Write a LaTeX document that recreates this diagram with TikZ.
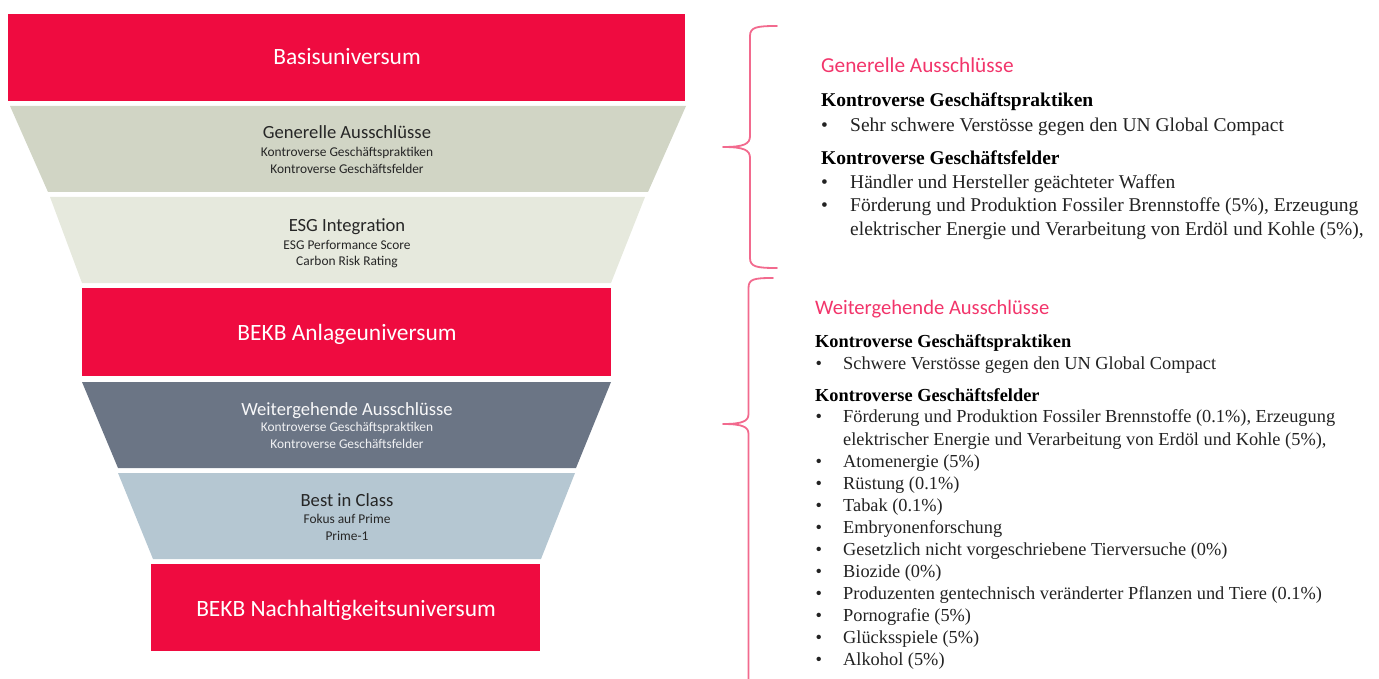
\documentclass[tikz,border=0pt]{standalone}
\usepackage{fontspec}
\setmainfont{Liberation Serif}
\newfontfamily\calibri{Carlito}
\definecolor{bekbred}{HTML}{EF0B40}
\definecolor{grayband}{HTML}{D1D5C5}
\definecolor{paleband}{HTML}{E6E9DD}
\definecolor{slateband}{HTML}{6B7585}
\definecolor{blueband}{HTML}{B5C7D2}
\definecolor{pinkhead}{HTML}{F2356B}
\definecolor{bracepink}{HTML}{F26A8E}
\definecolor{bandtext}{HTML}{262626}
\definecolor{bodytext}{HTML}{222222}
\tikzset{
  redlabel/.style={anchor=base, inner sep=0pt, text=white, font=\calibri\fontsize{23.4}{28}\selectfont},
  bandtitle/.style={anchor=base, inner sep=0pt, font=\calibri\fontsize{18.6}{22}\selectfont},
  bandsub/.style={anchor=base, inner sep=0pt, font=\calibri\fontsize{13.4}{16}\selectfont},
  pinktitle/.style={anchor=base west, inner sep=0pt, text=pinkhead, font=\calibri\fontsize{#1}{24}\selectfont},
  boldhead/.style={anchor=base west, inner sep=0pt, font=\bfseries\fontsize{#1}{22}\selectfont},
  bodyline/.style={anchor=base west, inner sep=0pt, text=bodytext, font=\fontsize{#1}{22}\selectfont},
  brace/.style={draw=bracepink, line width=1.8pt}
}
\begin{document}
\begin{tikzpicture}[x=1pt, y=-1pt, line join=round, line cap=round]
  \useasboundingbox (0,0) rectangle (1379,679);
  % funnel
  \fill[bekbred] (8,14) rectangle (685,101);
  \fill[grayband] (10,106)--(686,106)--(648,192)--(48,192)--cycle;
  \fill[paleband] (50,197)--(645,197)--(611,283)--(82,283)--cycle;
  \fill[bekbred] (82,288) rectangle (611,376);
  \fill[slateband] (82,382)--(611,382)--(576,468)--(118,468)--cycle;
  \fill[blueband] (118,473)--(575,473)--(541,559)--(153,559)--cycle;
  \fill[bekbred] (151,564) rectangle (540,651);
  \node[redlabel] (basis) at (347,65) {Basisuniversum};
  \node[bandtitle, text=bandtext] (genAus) at (347,139) {Generelle Ausschlüsse};
  \node[bandsub, text=bandtext] (genAusA) at (347,156.7) {Kontroverse Geschäftspraktiken};
  \node[bandsub, text=bandtext] (genAusB) at (347,173.3) {Kontroverse Geschäftsfelder};
  \node[bandtitle, text=bandtext] (esg) at (347,231.7) {ESG Integration};
  \node[bandsub, text=bandtext] (esgA) at (347,249.3) {ESG Performance Score};
  \node[bandsub, text=bandtext] (esgB) at (347,265.9) {Carbon Risk Rating};
  \node[redlabel] (anlage) at (347,340.5) {BEKB Anlageuniversum};
  \node[bandtitle, text=white!95!slateband] (weiter) at (347,415) {Weitergehende Ausschlüsse};
  \node[bandsub, text=white!90!slateband] (weiterA) at (347,431.7) {Kontroverse Geschäftspraktiken};
  \node[bandsub, text=white!90!slateband] (weiterB) at (347,448.3) {Kontroverse Geschäftsfelder};
  \node[bandtitle, text=bandtext] (best) at (347,506) {Best in Class};
  \node[bandsub, text=bandtext] (bestA) at (347,523.3) {Fokus auf Prime};
  \node[bandsub, text=bandtext] (bestB) at (347,540) {Prime-1};
  \node[redlabel] (nachhaltig) at (346,616.7) {BEKB Nachhaltigkeitsuniversum};
  % braces
  \draw[brace] (777,26) .. controls (757,26) and (750,27) .. (750,36) -- (750,136)
    .. controls (750,144) and (744,147) .. (723,147) .. controls (744,147) and (750,150) .. (750,158)
    -- (750,258) .. controls (750,267) and (757,268) .. (777,268);
  \draw[brace] (773,278) .. controls (754,278) and (748.5,279) .. (748.5,288) -- (748.5,414)
    .. controls (748.5,421) and (743,424) .. (723,424) .. controls (743,424) and (748.5,427) .. (748.5,434)
    -- (748.5,680);
  % generelle Ausschluesse
  \node[pinktitle=21.3] (gaHead) at (821,72.7) {Generelle Ausschlüsse};
  \node[boldhead=19.5] (gaP) at (821,107) {Kontroverse Geschäftspraktiken};
  \node[bodyline=19.5] at (821,132) {•};
  \node[bodyline=19.5] (gaP1) at (850,132) {Sehr schwere Verstösse gegen den UN Global Compact};
  \node[boldhead=19.5] (gaF) at (821,165) {Kontroverse Geschäftsfelder};
  \node[bodyline=19.5] at (821,188.7) {•};
  \node[bodyline=19.5] (gaF1) at (850,188.7) {Händler und Hersteller geächteter Waffen};
  \node[bodyline=19.5] at (821,211.7) {•};
  \node[bodyline=19.5] (gaF2) at (850,211.7) {Förderung und Produktion Fossiler Brennstoffe (5\%), Erzeugung};
  \node[bodyline=19.5] (gaF2b) at (850,235.3) {elektrischer Energie und Verarbeitung von Erdöl und Kohle (5\%),};
  % weitergehende Ausschluesse
  \node[pinktitle=20.6] (waHead) at (815,314.8) {Weitergehende Ausschlüsse};
  \node[boldhead=18.35] (waP) at (815,347) {Kontroverse Geschäftspraktiken};
  \node[bodyline=18.35] at (815.5,369.3) {•};
  \node[bodyline=18.35] (waP1) at (843,369.3) {Schwere Verstösse gegen den UN Global Compact};
  \node[boldhead=18.35] (waF) at (815,401) {Kontroverse Geschäftsfelder};
  \node[bodyline=18.35] at (815.5,422.7) {•};
  \node[bodyline=18.35] (waF0) at (843,422.7) {Förderung und Produktion Fossiler Brennstoffe (0.1\%), Erzeugung};
  \node[bodyline=18.35] (waF0b) at (843,445) {elektrischer Energie und Verarbeitung von Erdöl und Kohle (5\%),};
  \foreach \entry [count=\i] in {{Atomenergie (5\%)}, {Rüstung (0.1\%)}, {Tabak (0.1\%)},
      {Embryonenforschung}, {Gesetzlich nicht vorgeschriebene Tierversuche (0\%)}, {Biozide (0\%)},
      {Produzenten gentechnisch veränderter Pflanzen und Tiere (0.1\%)}, {Pornografie (5\%)},
      {Glücksspiele (5\%)}, {Alkohol (5\%)}}{
    \node[bodyline=18.35] at (815.5,{467.7+(\i-1)*21.95}) {•};
    \node[bodyline=18.35] (waF\i) at (843,{467.7+(\i-1)*21.95}) {\entry};
  }
\end{tikzpicture}
\end{document}
